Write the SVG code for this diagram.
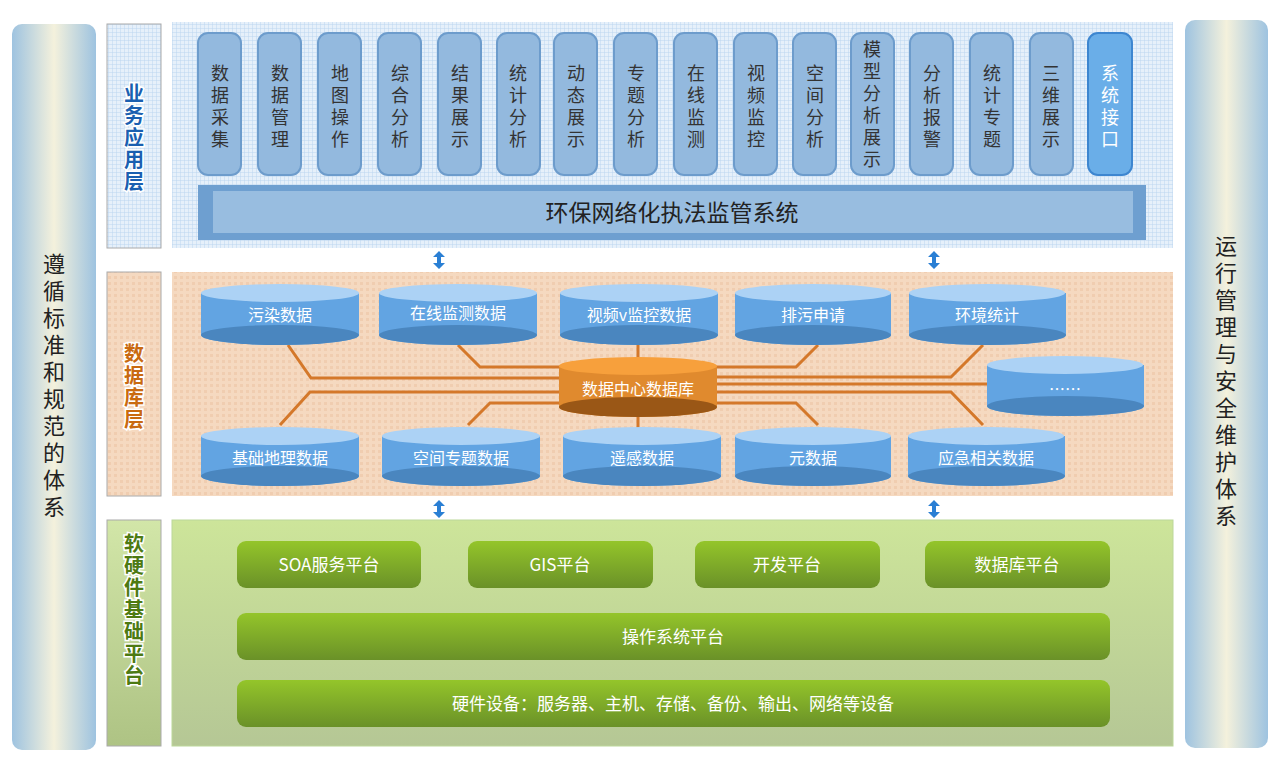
<svg xmlns="http://www.w3.org/2000/svg" width="1280" height="771" viewBox="0 0 1280 771">
<defs>
<linearGradient id="side" x1="0" y1="0" x2="1" y2="0"><stop offset="0" stop-color="#9ec3e0"/><stop offset="0.5" stop-color="#f4f1dc"/><stop offset="1" stop-color="#9ec3e0"/></linearGradient>
<pattern id="grid" width="4" height="4" patternUnits="userSpaceOnUse"><rect width="4" height="4" fill="#e6f0fa"/><path d="M0 0H4M0 0V4" stroke="#bcd6f0" stroke-width="1"/></pattern>
<pattern id="dots" width="6" height="6" patternUnits="userSpaceOnUse"><rect width="6" height="6" fill="#f5d9c0"/><rect width="3" height="3" fill="#f0cdb0"/></pattern>
<linearGradient id="greenbg" x1="0" y1="0" x2="0" y2="1"><stop offset="0" stop-color="#cde59a"/><stop offset="1" stop-color="#b5c795"/></linearGradient>
<linearGradient id="gbtn" x1="0" y1="0" x2="0" y2="1"><stop offset="0" stop-color="#94c52a"/><stop offset="1" stop-color="#6a9128"/></linearGradient>
<linearGradient id="lblgreen" x1="0" y1="0" x2="0" y2="1"><stop offset="0" stop-color="#d2e6a8"/><stop offset="1" stop-color="#aec384"/></linearGradient>
<path id="barrow" d="M0 -9L6 -3H2V3H6L0 9L-6 3H-2V-3H-6Z" fill="#2a7fd4"/>
<path id="harrow" d="M0 -10L6 -4H3V4H6L0 10L-6 4H-3V-4H-6Z" fill="#fff" stroke="#2a6fc0" stroke-width="1.2"/>
</defs>
<style>
.v{writing-mode:vertical-rl;text-anchor:middle}
.pill{fill:#93b9de;stroke:#6d9ccc;stroke-width:2}
.pt{font-family:"Noto Sans CJK SC",sans-serif;font-size:18px;fill:#333;letter-spacing:4px}
.lbl{font-family:"Noto Sans CJK SC",sans-serif;font-size:20px;font-weight:bold;fill:#1a5fb0;stroke:#fff;stroke-width:3;paint-order:stroke;letter-spacing:2px}
.side{font-family:"Noto Sans CJK SC",sans-serif;font-size:22px;fill:#222;letter-spacing:5px}
.cyl{fill:#62a4e2}
.cylt{fill:#acd2f5}
.cylb{fill:#4a86bf}
.ct{font-family:"Noto Sans CJK SC",sans-serif;font-size:16px;fill:#fff;text-anchor:middle}
.gt{font-family:"Noto Sans CJK SC",sans-serif;font-size:17px;fill:#fff;text-anchor:middle}
.ln{fill:none;stroke:#d4782a;stroke-width:3}
</style>
<rect x="0" y="0" width="1280" height="771" fill="#fff"/>
<g id="left-bar"><rect x="12" y="24" width="84" height="726" rx="10" fill="url(#side)"/>
<text class="side v" x="54" y="388">遵循标准和规范的体系</text></g>
<g id="right-bar"><rect x="1185" y="20" width="83" height="728" rx="10" fill="url(#side)"/>
<text class="side v" x="1226" y="383">运行管理与安全维护体系</text></g>
<g id="layer-labels">
<rect x="107" y="24" width="54" height="224" fill="url(#grid)" stroke="#aaa"/>
<text class="lbl v" x="134" y="138">业务应用层</text>
<rect x="107" y="272" width="54" height="224" fill="url(#dots)" stroke="#aaa"/>
<text class="lbl v" x="134" y="387" style="fill:#c96a10">数据库层</text>
<rect x="107" y="520" width="54" height="226" fill="url(#lblgreen)" stroke="#aaa"/>
<text class="lbl v" x="134" y="610" style="fill:#4d7a12">软硬件基础平台</text>
</g>
<g id="app-layer">
<rect x="172" y="22" width="1001" height="226" fill="url(#grid)"/>
<g id="pills">
<rect class="pill" x="198" y="33" width="43" height="142" rx="10"/><text class="pt v" x="220" y="108">数据采集</text>
<rect class="pill" x="258" y="33" width="43" height="142" rx="10"/><text class="pt v" x="280" y="108">数据管理</text>
<rect class="pill" x="318" y="33" width="43" height="142" rx="10"/><text class="pt v" x="340" y="108">地图操作</text>
<rect class="pill" x="378" y="33" width="43" height="142" rx="10"/><text class="pt v" x="400" y="108">综合分析</text>
<rect class="pill" x="438" y="33" width="43" height="142" rx="10"/><text class="pt v" x="460" y="108">结果展示</text>
<rect class="pill" x="497" y="33" width="43" height="142" rx="10"/><text class="pt v" x="518" y="108">统计分析</text>
<rect class="pill" x="554" y="33" width="43" height="142" rx="10"/><text class="pt v" x="576" y="108">动态展示</text>
<rect class="pill" x="614" y="33" width="43" height="142" rx="10"/><text class="pt v" x="636" y="108">专题分析</text>
<rect class="pill" x="674" y="33" width="43" height="142" rx="10"/><text class="pt v" x="696" y="108">在线监测</text>
<rect class="pill" x="734" y="33" width="43" height="142" rx="10"/><text class="pt v" x="756" y="108">视频监控</text>
<rect class="pill" x="793" y="33" width="43" height="142" rx="10"/><text class="pt v" x="815" y="108">空间分析</text>
<rect class="pill" x="851" y="33" width="43" height="142" rx="10"/><text class="pt v" x="872" y="106">模型分析展示</text>
<rect class="pill" x="910" y="33" width="43" height="142" rx="10"/><text class="pt v" x="932" y="108">分析报警</text>
<rect class="pill" x="970" y="33" width="43" height="142" rx="10"/><text class="pt v" x="992" y="108">统计专题</text>
<rect class="pill" x="1030" y="33" width="43" height="142" rx="10"/><text class="pt v" x="1051" y="108">三维展示</text>
<rect x="1088" y="33" width="44" height="142" rx="10" fill="#6aaee8" stroke="#3d86d0" stroke-width="2"/><text class="pt v" x="1110" y="108" style="fill:#fff">系统接口</text>
</g>
<g id="system-bar"><rect x="198" y="185" width="948" height="55" fill="#6e9fd0"/><rect x="213" y="191" width="920" height="42" fill="#98bde0"/>
<text x="672" y="221" style="font-family:'Noto Sans CJK SC',sans-serif;font-size:23px;fill:#222;text-anchor:middle">环保网络化执法监管系统</text></g>
</g>
<g id="db-layer">
<rect x="172" y="272" width="1001" height="224" fill="url(#dots)"/>
</g>
<g id="connectors">
<path class="ln" d="M288 345L311 378H560"/>
<path class="ln" d="M458 345L480 367H560"/>
<path class="ln" d="M638 335V358"/>
<path class="ln" d="M638 416V428"/>
<path class="ln" d="M818 345L796 367H716"/>
<path class="ln" d="M983 345L951 377H716"/>
<path class="ln" d="M716 384H988"/>
<path class="ln" d="M983 425L951 392H716"/>
<path class="ln" d="M818 425L796 403H716"/>
<path class="ln" d="M280 425L310 392H560"/>
<path class="ln" d="M468 425L490 403H560"/>
<use href="#barrow" x="439" y="260"/>
<use href="#barrow" x="934" y="260"/>
<use href="#barrow" x="439" y="509"/>
<use href="#barrow" x="934" y="509"/>
<use href="#harrow" x="335" y="601"/>
<use href="#harrow" x="565" y="601"/>
<use href="#harrow" x="795" y="601"/>
<use href="#harrow" x="1026" y="601"/>
</g>
<g id="cylinders">
<g id="c1"><path class="cyl" d="M201 293V335A79 10 0 0 0 359 335V293Z"/><path class="cylb" d="M201 335A79 10 0 0 0 359 335A79 10 0 0 0 201 335Z"/><ellipse class="cylt" cx="280" cy="293" rx="79" ry="9"/><text class="ct" x="280" y="321">污染数据</text></g>
<g id="c2"><path class="cyl" d="M379 293V335A79 10 0 0 0 537 335V293Z"/><path class="cylb" d="M379 335A79 10 0 0 0 537 335A79 10 0 0 0 379 335Z"/><ellipse class="cylt" cx="458" cy="293" rx="79" ry="9"/><text class="ct" x="458" y="319">在线监测数据</text></g>
<g id="c3"><path class="cyl" d="M560 293V335A79 10 0 0 0 718 335V293Z"/><path class="cylb" d="M560 335A79 10 0 0 0 718 335A79 10 0 0 0 560 335Z"/><ellipse class="cylt" cx="639" cy="293" rx="79" ry="9"/><text class="ct" x="639" y="321">视频v监控数据</text></g>
<g id="c4"><path class="cyl" d="M735 293V335A78 10 0 0 0 891 335V293Z"/><path class="cylb" d="M735 335A78 10 0 0 0 891 335A78 10 0 0 0 735 335Z"/><ellipse class="cylt" cx="813" cy="293" rx="78" ry="9"/><text class="ct" x="813" y="321">排污申请</text></g>
<g id="c5"><path class="cyl" d="M909 293V335A78 10 0 0 0 1066 335V293Z"/><path class="cylb" d="M909 335A78 10 0 0 0 1066 335A78 10 0 0 0 909 335Z"/><ellipse class="cylt" cx="987" cy="293" rx="78" ry="9"/><text class="ct" x="987" y="321">环境统计</text></g>
<g id="c6"><path class="cyl" d="M987 365V406A78 10 0 0 0 1144 406V365Z"/><path class="cylb" d="M987 406A78 10 0 0 0 1144 406A78 10 0 0 0 987 406Z"/><ellipse class="cylt" cx="1065" cy="365" rx="78" ry="9"/><text class="ct" x="1065" y="395">……</text></g>
<g id="center"><path d="M559 366V407A79 10 0 0 0 717 407V366Z" fill="#e08a2e"/><path d="M559 407A79 10 0 0 0 717 407A79 10 0 0 0 559 407Z" fill="#9a5716"/><ellipse cx="638" cy="366" rx="79" ry="9" fill="#f7a03c"/><text class="ct" x="638" y="395">数据中心数据库</text></g>
<g id="c7"><path class="cyl" d="M201 436V476A79 10 0 0 0 359 476V436Z"/><path class="cylb" d="M201 476A79 10 0 0 0 359 476A79 10 0 0 0 201 476Z"/><ellipse class="cylt" cx="280" cy="436" rx="79" ry="9"/><text class="ct" x="280" y="464">基础地理数据</text></g>
<g id="c8"><path class="cyl" d="M382 436V476A79 10 0 0 0 540 476V436Z"/><path class="cylb" d="M382 476A79 10 0 0 0 540 476A79 10 0 0 0 382 476Z"/><ellipse class="cylt" cx="461" cy="436" rx="79" ry="9"/><text class="ct" x="461" y="464">空间专题数据</text></g>
<g id="c9"><path class="cyl" d="M563 436V476A79 10 0 0 0 721 476V436Z"/><path class="cylb" d="M563 476A79 10 0 0 0 721 476A79 10 0 0 0 563 476Z"/><ellipse class="cylt" cx="642" cy="436" rx="79" ry="9"/><text class="ct" x="642" y="464">遥感数据</text></g>
<g id="c10"><path class="cyl" d="M735 436V476A78 10 0 0 0 891 476V436Z"/><path class="cylb" d="M735 476A78 10 0 0 0 891 476A78 10 0 0 0 735 476Z"/><ellipse class="cylt" cx="813" cy="436" rx="78" ry="9"/><text class="ct" x="813" y="464">元数据</text></g>
<g id="c11"><path class="cyl" d="M908 436V476A78 10 0 0 0 1065 476V436Z"/><path class="cylb" d="M908 476A78 10 0 0 0 1065 476A78 10 0 0 0 908 476Z"/><ellipse class="cylt" cx="986" cy="436" rx="78" ry="9"/><text class="ct" x="986" y="464">应急相关数据</text></g>
</g>
<g id="platform-layer">
<rect x="172" y="520" width="1001" height="226" fill="url(#greenbg)" stroke="#bcd79a"/>
<g id="soa"><rect x="237" y="541" width="184" height="47" rx="9" fill="url(#gbtn)"/><text class="gt" x="329" y="571">SOA服务平台</text></g>
<g id="gis"><rect x="468" y="541" width="185" height="47" rx="9" fill="url(#gbtn)"/><text class="gt" x="560" y="571">GIS平台</text></g>
<g id="dev"><rect x="695" y="541" width="185" height="47" rx="9" fill="url(#gbtn)"/><text class="gt" x="787" y="571">开发平台</text></g>
<g id="dbp"><rect x="925" y="541" width="185" height="47" rx="9" fill="url(#gbtn)"/><text class="gt" x="1017" y="571">数据库平台</text></g>
<g id="os"><rect x="237" y="613" width="873" height="47" rx="9" fill="url(#gbtn)"/><text class="gt" x="673" y="643">操作系统平台</text></g>
<g id="hw"><rect x="237" y="680" width="873" height="47" rx="9" fill="url(#gbtn)"/><text class="gt" x="673" y="710">硬件设备：服务器、主机、存储、备份、输出、网络等设备</text></g>
</g>
</svg>
